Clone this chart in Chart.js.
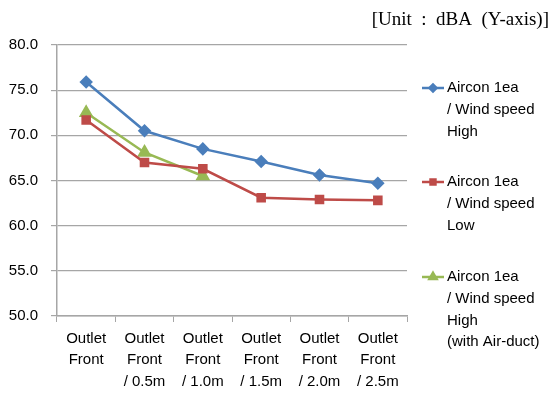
<!DOCTYPE html>
<html>
<head>
<meta charset="utf-8">
<script src="https://cdn.jsdelivr.net/npm/chart.js@4.4.1/dist/chart.umd.min.js"></script>
<style>
  html, body { margin: 0; padding: 0; background: #fff; }
  #wrap { position: relative; width: 552px; height: 394px; }
</style>
</head>
<body>
<div id="wrap"><canvas id="noiseChart" width="552" height="394"></canvas></div>
<script>
const categories = [
  ["Outlet", "Front"],
  ["Outlet", "Front", "/ 0.5m"],
  ["Outlet", "Front", "/ 1.0m"],
  ["Outlet", "Front", "/ 1.5m"],
  ["Outlet", "Front", "/ 2.0m"],
  ["Outlet", "Front", "/ 2.5m"],
];
const windHigh = [75.9, 70.5, 68.5, 67.1, 65.6, 64.7];
const windLow = [71.7, 67.0, 66.3, 63.1, 62.9, 62.8];
const windHighDuct = [72.5, 68.1, 65.5, null, null, null];
const seriesNames = [
  ["Aircon 1ea", "/ Wind speed", "High"],
  ["Aircon 1ea", "/ Wind speed", "Low"],
  ["Aircon 1ea", "/ Wind speed", "High", "(with Air-duct)"],
];
const yTicks = [50, 55, 60, 65, 70, 75, 80];
const unitLabel = "[Unit  :  dBA  (Y-axis)]";

const FONT = "'Liberation Sans', Arial, sans-serif";
const GRID = "#a6a6a6";

// legend on the right with multi-line labels, drawn straight on the canvas
const sideLegend = {
  id: "sideLegend",
  afterDraw(chart) {
    const ctx = chart.ctx;
    const x0 = 422;
    const tops = [88, 182, 277];
    ctx.save();
    chart.data.datasets.forEach((ds, i) => {
      const y = tops[i];
      ctx.strokeStyle = ds.borderColor;
      ctx.lineWidth = 2.5;
      ctx.beginPath();
      ctx.moveTo(x0, y);
      ctx.lineTo(x0 + 22, y);
      ctx.stroke();
      Chart.helpers.drawPoint(ctx, {
        pointStyle: ds.pointStyle,
        radius: ds.pointRadius * 0.7,
        borderWidth: 1,
      }, x0 + 11, y);
      ctx.fillStyle = ds.borderColor;
      ctx.fill();
      ctx.fillStyle = "#000";
      ctx.font = "15px " + FONT;
      ctx.textBaseline = "middle";
      ctx.textAlign = "left";
      seriesNames[i].forEach((line, k) => {
        ctx.fillText(line, x0 + 25, y + k * 21.7);
      });
    });
    ctx.font = "19px 'Liberation Serif', 'Times New Roman', serif";
    ctx.textAlign = "right";
    ctx.fillText(unitLabel, 549, 20);
    ctx.restore();
  },
};

function series(label, data, color, style, radius) {
  return {
    label,
    data,
    borderColor: color,
    backgroundColor: color,
    pointBackgroundColor: color,
    pointBorderColor: color,
    borderWidth: 2.5,
    pointStyle: style,
    pointRadius: radius,
    pointHoverRadius: radius,
    tension: 0,
    spanGaps: false,
  };
}

new Chart(document.getElementById("noiseChart"), {
  type: "line",
  data: {
    labels: categories,
    datasets: [
      series(seriesNames[0].join(" "), windHigh, "#4a7ebb", "rectRot", 5),
      series(seriesNames[1].join(" "), windLow, "#be4b48", "rect", 5),
      series(seriesNames[2].join(" "), windHighDuct, "#98b954", "triangle", 6),
    ],
  },
  options: {
    responsive: false,
    animation: false,
    layout: { padding: { top: 45, right: 145, bottom: 0, left: 0 } },
    plugins: { legend: { display: false }, tooltip: { enabled: false } },
    scales: {
      x: {
        offset: true,
        afterFit(scale) { scale.height = 78; },
        grid: { offset: true, drawOnChartArea: false, color: GRID, tickLength: 6 },
        border: { color: GRID, width: 1.5 },
        ticks: {
          color: "#000",
          font: { family: FONT, size: 15, lineHeight: 1.43 },
          padding: 6,
          maxRotation: 0,
          autoSkip: false,
        },
      },
      y: {
        min: yTicks[0],
        max: yTicks[yTicks.length - 1],
        afterFit(scale) { scale.width = 57; },
        afterBuildTicks(scale) { scale.ticks = yTicks.map((v) => ({ value: v })); },
        grid: { color: GRID, lineWidth: 1.2, tickLength: 6 },
        border: { color: GRID, width: 1.5 },
        ticks: {
          color: "#000",
          font: { family: FONT, size: 15 },
          padding: 13,
          callback: (v) => Number(v).toFixed(1),
        },
      },
    },
  },
  plugins: [sideLegend],
});
</script>
</body>
</html>
